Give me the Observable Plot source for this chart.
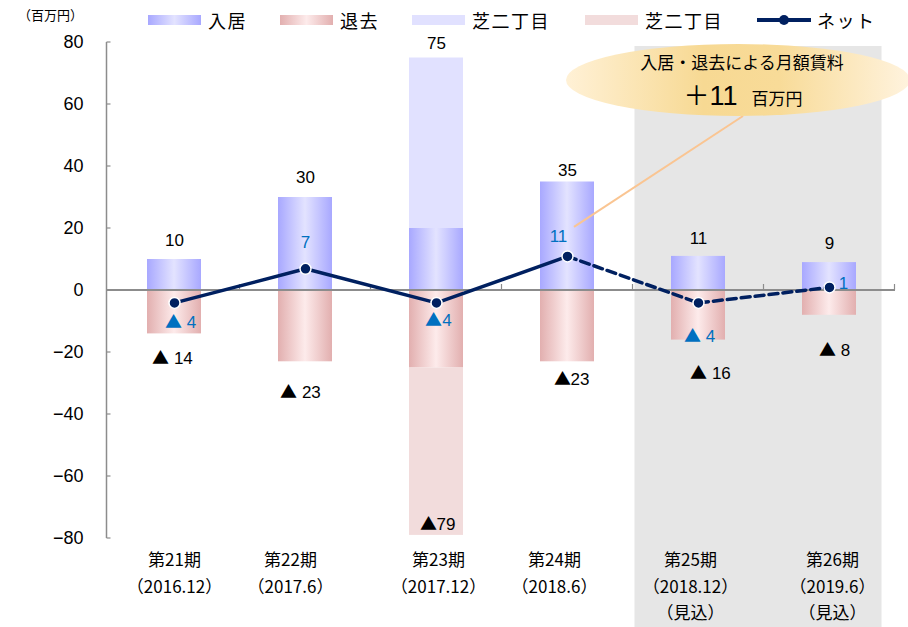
<!DOCTYPE html>
<html>
<head>
<meta charset="utf-8">
<script src="https://cdn.jsdelivr.net/npm/d3@7"></script>
<script src="https://cdn.jsdelivr.net/npm/@observablehq/plot@0.6"></script>
<style>
  /* larger triangle glyph for the ▲ (decrease) marks */
  @font-face {
    font-family: "TriMark";
    src: local("Noto Sans CJK JP Regular"), local("NotoSansCJKjp-Regular"), local("Noto Sans CJK JP"),
         local("DejaVu Sans"), local("DejaVuSans");
    unicode-range: U+25B2;
  }
  body { margin: 0; background: #fff; }
  #wrap { width: 908px; height: 627px; position: relative; overflow: hidden; }
  #legend { position: relative; height: 36px; font-family: "Noto Sans CJK JP", sans-serif; color: #000; }
  #legend .unit { position: absolute; left: 18px; top: 6px; font-size: 13px; line-height: 18px; }
  #legend .swatch { position: absolute; top: 15px; width: 53px; height: 10px; }
  #legend .label { position: absolute; top: 9px; font-size: 18px; line-height: 22px; letter-spacing: 1.5px; white-space: nowrap; }
  #legend svg { position: absolute; top: 14px; }
  #chart svg { display: block; }
</style>
</head>
<body>
<div id="wrap">
  <div id="legend"></div>
  <div id="chart"></div>
</div>
<script>
// 月額賃料の増減（百万円）
const periods = ["第21期", "第22期", "第23期", "第24期", "第25期", "第26期"];
const periodDates = ["（2016.12）", "（2017.6）", "（2017.12）", "（2018.6）", "（2018.12）", "（2019.6）"];
const periodNotes = ["", "", "", "", "（見込）", "（見込）"];
const forecastPeriods = ["第25期", "第26期"];

const moveIn = [10, 30, 20, 35, 11, 9];       // 入居
const shibaIn = [0, 0, 55, 0, 0, 0];          // 芝二丁目（入居分）
const moveOut = [-14, -23, -25, -23, -16, -8]; // 退去
const shibaOut = [0, 0, -54, 0, 0, 0];        // 芝二丁目（退去分）
const net = [-4, 7, -4, 11, -4, 1];           // ネット

const yTicks = [-80, -60, -40, -20, 0, 20, 40, 60, 80];
const legendLabels = ["入居", "退去", "芝二丁目", "芝二丁目", "ネット"];
const unitLabel = "（百万円）";
const calloutTitle = "入居・退去による月額賃料";
const calloutValue = 11;
const calloutUnit = "百万円";

// ---- styling ----
const NUM_FONT = "TriMark, 'Liberation Sans', Arial, 'Noto Sans CJK JP', sans-serif";
const JP_FONT = "'Noto Sans CJK JP', sans-serif";
const NAVY = "#002060";
const BLUE_TEXT = "#0070C0";
const AXIS_GRAY = "#8c8c8c";
const IN_EDGE = "#A8A8FF", IN_MID = "#E3E3FF";
const OUT_EDGE = "#E2AFAF", OUT_MID = "#FDEBEB";
const SHIBA_IN = "#E1E1FF", SHIBA_OUT = "#F2DCDC";

const rows = periods.map((p, i) => ({
  period: p,
  date: periodDates[i],
  note: periodNotes[i],
  moveIn: moveIn[i],
  shibaIn: shibaIn[i],
  moveOut: moveOut[i],
  shibaOut: shibaOut[i],
  net: net[i],
  inTotal: moveIn[i] + shibaIn[i],
  outTotal: moveOut[i] + shibaOut[i]
}));

// label offsets (px) per period
const inLabelOffset = [[0, -19], [0, -20], [0, -14], [0, -11], [0, -18], [0, -19]];
const outLabelOffset = [[-2, 25], [-5, 31], [1, -11], [4, 18], [12, 33], [5, 35]];
const outLabelGap = [" ", " ", "", "", " ", " "];
const netLabelOffset = [[6, 20], [0, -26], [2, 18], [-9, -20], [1, 34], [14, -4]];
const netLabelGap = [" ", "", "", "", " ", ""];
const periodLabelDx = [0, -15, 2, -13, -8, 3];

// ---- legend ----
const legend = d3.select("#legend");
legend.append("div").attr("class", "unit").text(unitLabel);
const legendLeft = [148, 280, 412, 585, 757];
const legendSwatch = [
  `linear-gradient(to right, ${IN_EDGE}, ${IN_MID} 50%, ${IN_EDGE})`,
  `linear-gradient(to right, ${OUT_EDGE}, ${OUT_MID} 50%, ${OUT_EDGE})`,
  SHIBA_IN,
  SHIBA_OUT,
  null
];
legendLabels.forEach((label, i) => {
  const left = legendLeft[i];
  if (legendSwatch[i]) {
    legend.append("div").attr("class", "swatch")
      .style("left", left + "px").style("background", legendSwatch[i]);
  } else {
    const s = legend.append("svg").attr("width", 54).attr("height", 12).style("left", left + "px");
    s.append("line").attr("x1", 0).attr("x2", 54).attr("y1", 6).attr("y2", 6)
      .attr("stroke", NAVY).attr("stroke-width", 4);
    s.append("circle").attr("cx", 27).attr("cy", 6).attr("r", 5).attr("fill", NAVY);
  }
  legend.append("div").attr("class", "label").style("left", (left + 60) + "px").text(label);
});

// ---- helper render marks ----
function defs() {
  const d = d3.create("svg:defs");
  const lin = (id, stops) => {
    const g = d.append("linearGradient").attr("id", id)
      .attr("x1", 0).attr("x2", 1).attr("y1", 0).attr("y2", 0);
    stops.forEach(([o, c]) => g.append("stop").attr("offset", o).attr("stop-color", c));
  };
  lin("gradIn", [["0%", IN_EDGE], ["50%", IN_MID], ["100%", IN_EDGE]]);
  lin("gradOut", [["0%", OUT_EDGE], ["50%", OUT_MID], ["100%", OUT_EDGE]]);
  lin("gradCallout", [["0%", "#FFF1D6"], ["40%", "#F7D993"], ["62%", "#F8DB98"], ["100%", "#FFF3DE"]]);
  return d.node();
}

function bandCenter(x, v) {
  const bw = x.bandwidth ? x.bandwidth() : 0;
  return x(v) + bw / 2;
}

function forecastZone(index, scales, values, dim) {
  const x = scales.x;
  const bw = x.bandwidth(), step = x.step();
  const gap = (step - bw) / 2;
  const left = x(forecastPeriods[0]) - gap + 2;
  const right = x(forecastPeriods[forecastPeriods.length - 1]) + bw + gap - 13;
  return d3.create("svg:rect")
    .attr("x", left).attr("y", dim.marginTop + 4)
    .attr("width", right - left).attr("height", dim.height - dim.marginTop - 4)
    .attr("fill", "#E6E6E6").node();
}

function axisLines(index, scales, values, dim) {
  const {x, y} = scales;
  const bw = x.bandwidth(), step = x.step();
  const gap = (step - bw) / 2;
  const g = d3.create("svg:g").attr("stroke", AXIS_GRAY).attr("fill", "none");
  const x0 = dim.marginLeft - 0.5, x1 = dim.width - dim.marginRight;
  g.append("line").attr("x1", x0).attr("x2", x0)
    .attr("y1", y(d3.max(yTicks))).attr("y2", y(d3.min(yTicks))).attr("stroke-width", 1.5);
  yTicks.forEach(t => {
    g.append("line").attr("x1", x0).attr("x2", x0 + 4).attr("y1", y(t)).attr("y2", y(t)).attr("stroke-width", 1.2);
  });
  g.append("line").attr("x1", x0).attr("x2", x1).attr("y1", y(0)).attr("y2", y(0)).attr("stroke-width", 1.8);
  periods.forEach(p => {
    const bx = x(p) + bw + gap;
    g.append("line").attr("x1", bx).attr("x2", bx).attr("y1", y(0)).attr("y2", y(0) - 6).attr("stroke-width", 1.2);
  });
  return g.node();
}

function callout(index, scales, values, dim) {
  const {x, y} = scales;
  const cx = dim.width - 170, cy = dim.marginTop + 38, rx = 172, ry = 36;
  const g = d3.create("svg:g");
  const sx = bandCenter(x, periods[3]) + 7, sy = y(net[3]) - 29;
  g.append("line").attr("x1", sx).attr("y1", sy).attr("x2", cx + 5).attr("y2", cy + ry)
    .attr("stroke", "#FAC592").attr("stroke-width", 2);
  g.append("ellipse").attr("cx", cx).attr("cy", cy).attr("rx", rx).attr("ry", ry)
    .attr("fill", "url(#gradCallout)");
  g.append("text").attr("x", cx + 4).attr("y", cy - 17).attr("dy", "0.35em")
    .attr("text-anchor", "middle").attr("font-family", JP_FONT).attr("font-size", 17)
    .attr("fill", "#000").text(calloutTitle);
  const t = g.append("text").attr("x", cx + 5).attr("y", cy + 25)
    .attr("text-anchor", "middle").attr("fill", "#000");
  t.append("tspan").attr("font-family", JP_FONT).attr("font-size", 26).text("＋");
  t.append("tspan").attr("font-family", NUM_FONT).attr("font-size", 27).text(String(calloutValue));
  t.append("tspan").attr("font-family", JP_FONT).attr("font-size", 17).attr("dx", 14).text(calloutUnit);
  return g.node();
}

const fmtTick = d3.format("d");

const marks = [
  defs,
  forecastZone,
  Plot.barY(rows, {x: "period", y1: 0, y2: "moveIn", fill: "url(#gradIn)"}),
  Plot.barY(rows.filter(d => d.shibaIn !== 0), {x: "period", y1: "moveIn", y2: "inTotal", fill: SHIBA_IN}),
  Plot.barY(rows, {x: "period", y1: 0, y2: "moveOut", fill: "url(#gradOut)"}),
  Plot.barY(rows.filter(d => d.shibaOut !== 0), {x: "period", y1: "moveOut", y2: "outTotal", fill: SHIBA_OUT}),
  axisLines,
  Plot.text(yTicks, {y: d => d, frameAnchor: "left", textAnchor: "end", dx: -24,
    text: d => fmtTick(d), fontSize: 18, fill: "#000"}),
  Plot.line(rows.slice(0, 4), {x: "period", y: "net", stroke: NAVY, strokeWidth: 3.5}),
  Plot.line(rows.slice(3), {x: "period", y: "net", stroke: NAVY, strokeWidth: 3.5, strokeDasharray: "9 5"}),
  Plot.dot(rows, {x: "period", y: "net", r: 5.5, fill: NAVY, stroke: "#fff", strokeWidth: 1.5}),
  callout
];

rows.forEach((d, i) => {
  marks.push(Plot.text([d], {x: "period", y: "inTotal", text: r => String(r.inTotal),
    dx: inLabelOffset[i][0], dy: inLabelOffset[i][1], fontSize: 17, fill: "#000"}));
  marks.push(Plot.text([d], {x: "period", y: "outTotal", text: r => "▲" + outLabelGap[i] + Math.abs(r.outTotal),
    dx: outLabelOffset[i][0], dy: outLabelOffset[i][1], fontSize: 17, fill: "#000"}));
  marks.push(Plot.text([d], {x: "period", y: "net",
    text: r => r.net < 0 ? "▲" + netLabelGap[i] + Math.abs(r.net) : String(r.net),
    dx: netLabelOffset[i][0], dy: netLabelOffset[i][1], fontSize: 17, fill: BLUE_TEXT}));
  marks.push(Plot.text([d], {x: "period", text: "period", frameAnchor: "bottom",
    dx: periodLabelDx[i], dy: 27, fontSize: 17, fontFamily: JP_FONT, fill: "#000"}));
  marks.push(Plot.text([d], {x: "period", text: "date", frameAnchor: "bottom",
    dx: periodLabelDx[i], dy: 54, fontSize: 17, fontFamily: JP_FONT, fill: "#000"}));
  if (d.note) {
    marks.push(Plot.text([d], {x: "period", text: "note", frameAnchor: "bottom",
      dx: periodLabelDx[i], dy: 80, fontSize: 17, fontFamily: JP_FONT, fill: "#000"}));
  }
});

const chart = Plot.plot({
  width: 908,
  height: 591,
  marginLeft: 107,
  marginRight: 13,
  marginTop: 6,
  marginBottom: 89,
  x: {domain: periods, paddingInner: 0.59, paddingOuter: 0.295, axis: null},
  y: {domain: [-80, 80], axis: null},
  style: {fontFamily: NUM_FONT, fontSize: "17px", color: "#000", background: "transparent", overflow: "visible"},
  marks
});
document.getElementById("chart").append(chart);
</script>
</body>
</html>
